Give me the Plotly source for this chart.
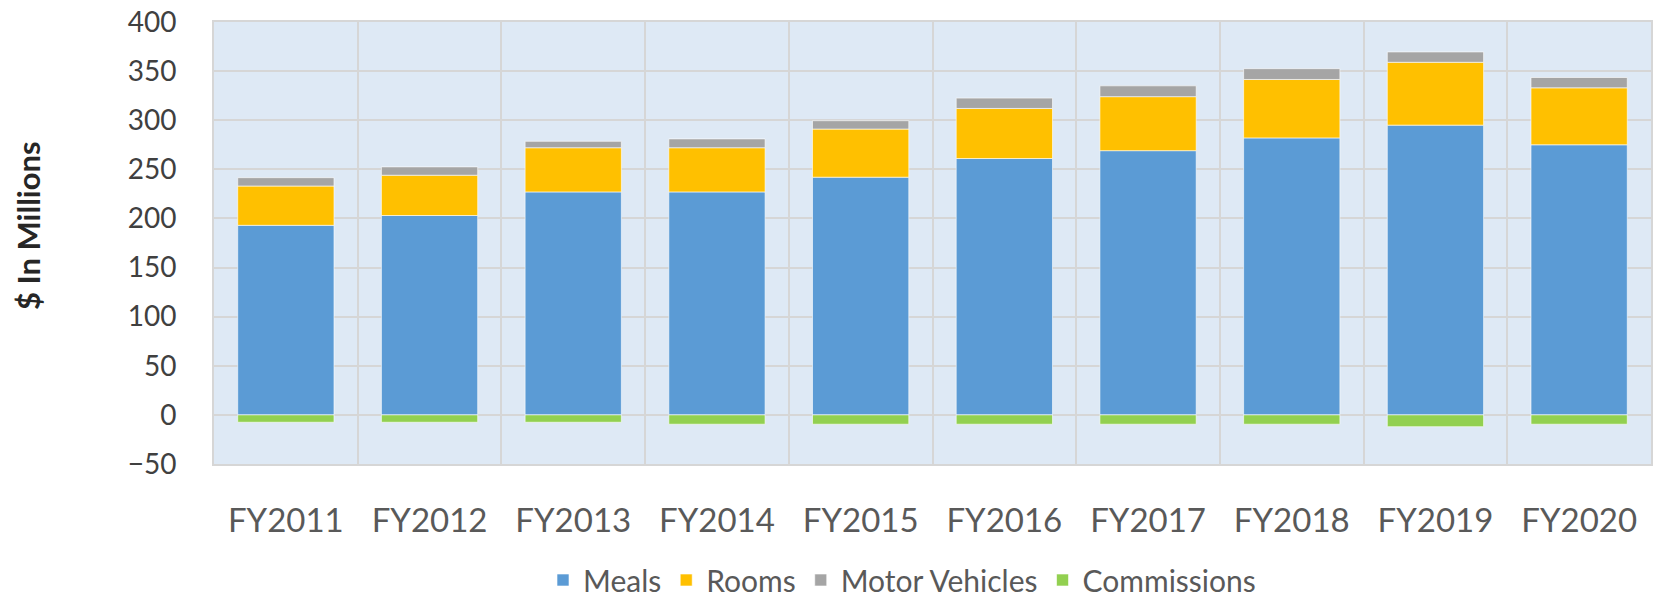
import plotly.graph_objects as go

years = ["FY2011", "FY2012", "FY2013", "FY2014", "FY2015",
         "FY2016", "FY2017", "FY2018", "FY2019", "FY2020"]
meals = [193, 203, 227, 227, 242, 261, 269, 282, 295, 275]
rooms = [40, 41, 45, 45, 49, 51, 55, 59.5, 64, 58]
motor_vehicles = [8.5, 8.5, 6.5, 9, 8.5, 10.5, 11, 11, 10.5, 10.5]
commissions = [-7.5, -7.5, -7.5, -9.5, -9.5, -9.5, -9.5, -9.5, -12, -9.5]

series = [
    ("Meals", meals, "#5B9BD5"),
    ("Rooms", rooms, "#FFC000"),
    ("Motor Vehicles", motor_vehicles, "#A5A5A5"),
    ("Commissions", commissions, "#92D050"),
]

W, H = 1656, 597
L, T = 214, 22
pw, ph = 1437, 442
R, B = W - L - pw, H - T - ph


def px_x(x_page):
    return (x_page - L) / pw


def px_y(y_page):
    return (T + ph - y_page) / ph


fig = go.Figure()
for name, vals, col in series:
    fig.add_trace(go.Bar(
        x=years, y=vals, name=name,
        marker=dict(color=col, line=dict(color="rgba(255,255,255,0.6)", width=1)),
    ))

fig.update_layout(
    width=W, height=H,
    margin=dict(l=L, r=R, t=T, b=B, autoexpand=False),
    barmode="relative",
    bargap=0.33,
    paper_bgcolor="white",
    plot_bgcolor="#DEE9F5",
    font=dict(family="Lato", color="#404040"),
    showlegend=True,
    legend=dict(
        orientation="h", x=px_x(902), xanchor="center",
        y=px_y(580), yanchor="middle",
        font=dict(size=30, color="#595959"),
        itemwidth=30, traceorder="normal",
    ),
)

fig.update_xaxes(
    type="category", tickson="boundaries", automargin=False,
    showgrid=True, gridcolor="#D6D6D6", gridwidth=2,
    showline=True, linecolor="#D6D6D6", linewidth=2, mirror=True,
    ticks="", tickfont=dict(size=33, color="#595959"),
    ticklabelstandoff=26, ticklabeloverflow="allow",
)
fig.update_yaxes(
    range=[-50, 400], dtick=50, tick0=0, automargin=False,
    showgrid=True, gridcolor="#D6D6D6", gridwidth=2,
    zeroline=False,
    showline=True, linecolor="#D6D6D6", linewidth=2, mirror=True,
    ticks="", tickfont=dict(size=28, color="#404040"),
    ticklabelstandoff=30, ticklabeloverflow="allow",
)

fig.add_annotation(
    text="<b>$ In Millions</b>", textangle=-90,
    xref="paper", yref="paper",
    x=px_x(28), y=px_y(226),
    xanchor="center", yanchor="middle", showarrow=False,
    font=dict(size=31, color="#262626", family="Lato"),
)

fig.write_html(
    "out.html",
    config={"displayModeBar": False},
    post_script="document.body.style.margin='0';",
)
